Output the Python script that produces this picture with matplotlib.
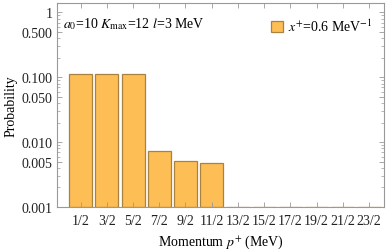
import matplotlib
matplotlib.use('Agg')
import matplotlib.pyplot as plt
import numpy as np
from matplotlib.patches import Patch
from matplotlib.ticker import FixedLocator, LogLocator, NullFormatter

# --- data ---
momenta = ['1/2', '3/2', '5/2', '7/2', '9/2', '11/2', '13/2', '15/2',
           '17/2', '19/2', '21/2', '23/2']
probs = [0.113, 0.114, 0.113, 0.0072, 0.0051, 0.0048, 0, 0, 0, 0, 0, 0]
yticks = [0.001, 0.005, 0.010, 0.050, 0.100, 0.500, 1]
ytick_labels = ['0.001', '0.005', '0.010', '0.050', '0.100', '0.500', '1']

bar_color = '#FDBE55'
edge_color = '#A8823E'
frame_color = '#999999'

plt.rcParams['font.family'] = ['Liberation Serif', 'DejaVu Serif']
plt.rcParams['mathtext.fontset'] = 'stix'

fs = 10

fig = plt.figure(figsize=(3.9, 2.51), dpi=100)
ax = fig.add_axes([57 / 390, 1 - 208 / 251, (384 - 57) / 390, (208 - 4) / 251])

x = np.arange(1, len(momenta) + 1)
base = 0.001
heights = [p - base if p > base else 0 for p in probs]
ax.bar(x, heights, bottom=base, width=0.88, color=bar_color,
       edgecolor=edge_color, linewidth=0.9)

ax.set_yscale('log')
ax.set_ylim(0.001, 1.4)
ax.set_xlim(0.1, 12.57)

ax.set_xticks(x)
ax.set_xticklabels(momenta)
ax.yaxis.set_major_locator(FixedLocator(yticks))
ax.set_yticklabels(ytick_labels)
ax.yaxis.set_minor_locator(LogLocator(base=10, subs=np.arange(2, 10)))
ax.yaxis.set_minor_formatter(NullFormatter())

ax.tick_params(axis='both', which='both', direction='in', top=True, right=True,
               color=frame_color, labelsize=fs, labelcolor='#222222', pad=3)
ax.tick_params(axis='both', which='major', length=3.5, width=0.6)
ax.tick_params(axis='y', which='minor', length=2, width=0.5)
ax.tick_params(axis='x', pad=5)
for s in ax.spines.values():
    s.set_color(frame_color)
    s.set_linewidth(0.8)

ax.set_ylabel('Probability', fontsize=fs, labelpad=3)
ax.set_xlabel('Momentum $p^{+}$ (MeV)', fontsize=fs, labelpad=4)

ax.text(0.018, 0.90, r'$a_0$=10 $K_{\rm max}$=12 $l$=3 MeV', transform=ax.transAxes,
        fontsize=fs, va='center', ha='left')

handle = Patch(facecolor=bar_color, edgecolor=edge_color, linewidth=0.9)
ax.legend([handle], [r'$x^{+}$=0.6 MeV$^{-1}$'], loc='upper right', frameon=False,
          fontsize=fs, handlelength=0.8, handleheight=0.8, handletextpad=0.4,
          borderaxespad=0.3, bbox_to_anchor=(0.995, 0.975))

fig.savefig('out.png', dpi=100)
